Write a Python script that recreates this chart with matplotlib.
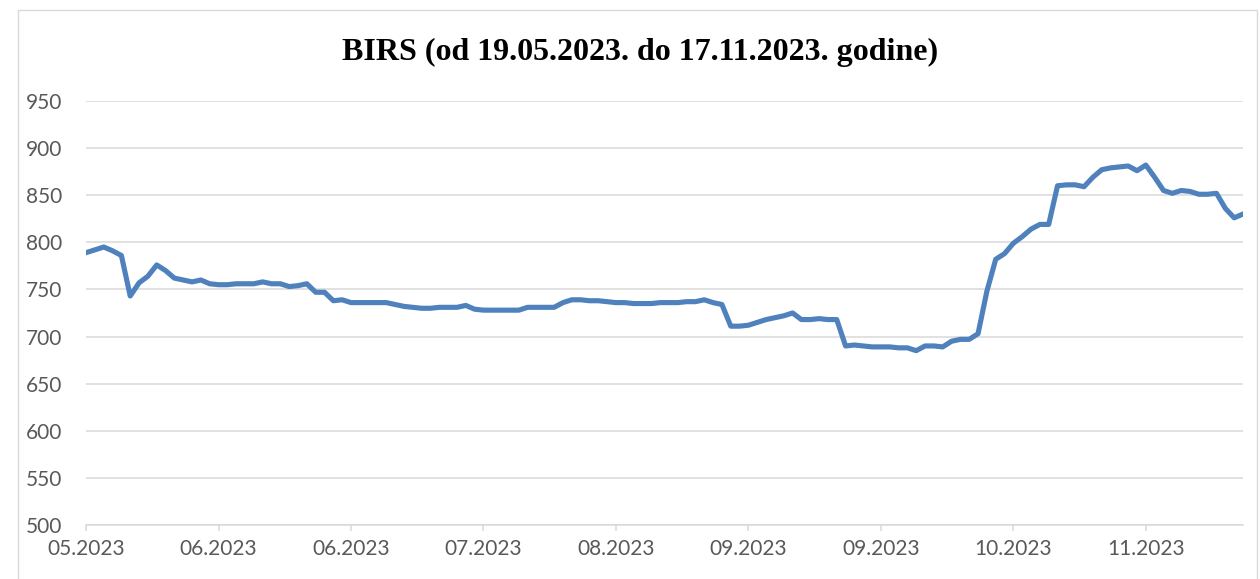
import numpy as np
import matplotlib.pyplot as plt
from matplotlib.patches import Rectangle

# Vrijednosti BIRS indeksa (ocitano sa grafika)
values = [
    789, 792, 795, 791, 786, 743, 757, 764, 776, 770,
    762, 760, 758, 760, 756, 755, 755, 756, 756, 756,
    758, 756, 756, 753, 754, 756, 747, 747, 738, 739,
    736, 736, 736, 736, 736, 734, 732, 731, 730, 730,
    731, 731, 731, 733, 729, 728, 728, 728, 728, 728,
    731, 731, 731, 731, 736, 739, 739, 738, 738, 737,
    736, 736, 735, 735, 735, 736, 736, 736, 737, 737,
    739, 736, 734, 711, 711, 712, 715, 718, 720, 722,
    725, 718, 718, 719, 718, 718, 690, 691, 690, 689,
    689, 689, 688, 688, 685, 690, 690, 689, 695, 697,
    697, 703, 748, 782, 788, 799, 806, 814, 819, 819,
    860, 861, 861, 859, 869, 877, 879, 880, 881, 876,
    882, 869, 855, 852, 855, 854, 851, 851, 852, 836,
    826, 830,
]
tick_labels = ["05.2023", "06.2023", "06.2023", "07.2023", "08.2023",
               "09.2023", "09.2023", "10.2023", "11.2023"]
tick_step = 15

x = np.arange(len(values))

fig = plt.figure(figsize=(12.6, 5.79), dpi=100)
ax = fig.add_axes([0.0683, 0.0933, 0.9182, 0.7323])

ax.plot(x, values, color="#4F81BD", linewidth=3.7, solid_joinstyle="round")

ax.set_xlim(0, len(values) - 1)
ax.set_ylim(500, 950)
ax.set_yticks(np.arange(500, 951, 50))
ax.set_xticks(x[::tick_step][:len(tick_labels)])
ax.set_xticklabels(tick_labels)

ax.grid(axis="y", color="#D9D9D9", linewidth=1.1)
ax.set_axisbelow(True)
for s in ["top", "right", "left"]:
    ax.spines[s].set_visible(False)
ax.spines["bottom"].set_color("#D9D9D9")
ax.spines["bottom"].set_linewidth(1.1)

ax.tick_params(axis="y", length=0, pad=17, labelsize=15, labelcolor="#595959")
ax.tick_params(axis="x", length=4, width=1.1, color="#D9D9D9", pad=6,
               labelsize=15, labelcolor="#595959")
for lab in ax.get_xticklabels() + ax.get_yticklabels():
    lab.set_fontfamily("Lato")

fig.text(0.508, 0.91, "BIRS (od 19.05.2023. do 17.11.2023. godine)",
         ha="center", va="center", fontsize=23, fontweight="bold",
         family="Liberation Serif", color="black")

# okvir grafika
fig.patches.append(Rectangle((0.014, -0.01), 0.984, 0.993, transform=fig.transFigure,
                             fill=False, edgecolor="#D9D9D9", linewidth=1))

fig.savefig("out.png", dpi=100)
